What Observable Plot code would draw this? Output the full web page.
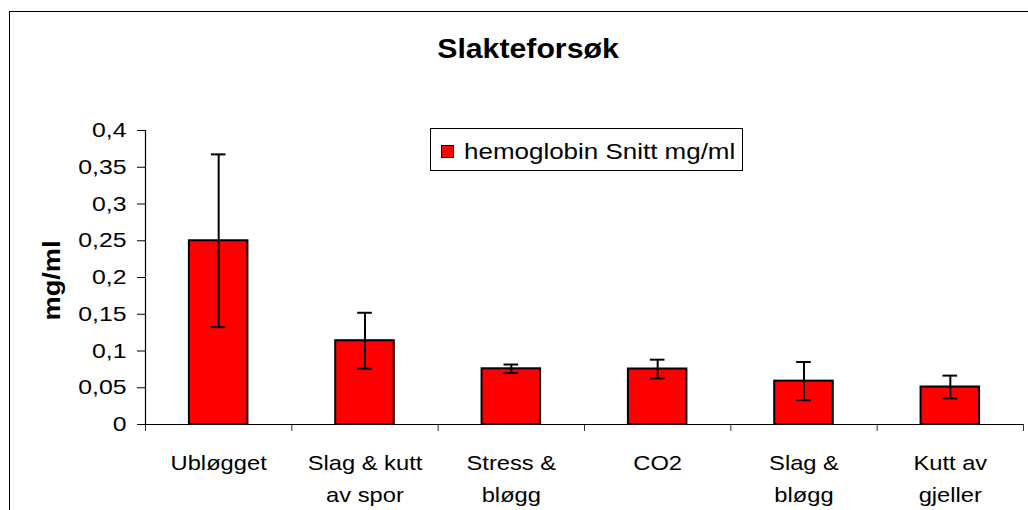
<!DOCTYPE html>
<html><head><meta charset="utf-8">
<script src="https://cdn.jsdelivr.net/npm/d3@7"></script>
<script src="https://cdn.jsdelivr.net/npm/@observablehq/plot@0.6"></script>
<style>
body{margin:0;background:#fff;}
#wrap{position:relative;width:1028px;height:510px;overflow:hidden;font-family:"Liberation Sans",Arial,sans-serif;color:#000;}
#chart{position:absolute;left:0;top:0;}
#frame{position:absolute;left:9px;top:11px;right:-5px;bottom:-5px;border-left:1.5px solid #000;border-top:1.5px solid #000;pointer-events:none;}
#title{position:absolute;left:327.5px;width:400px;top:34.6px;text-align:center;font-weight:bold;font-size:28px;line-height:28px;transform:scaleX(1.08);white-space:nowrap;}
#legend{position:absolute;left:430px;top:128px;width:311px;height:41px;border:1px solid #000;background:#fff;}
#legend .sw{position:absolute;left:10px;top:16px;width:11px;height:11px;background:#ff0000;border:1px solid #000;}
#legend .lt{position:absolute;left:33px;top:11.7px;font-size:22px;line-height:22px;white-space:nowrap;transform:scaleX(1.18);transform-origin:0 0;}
</style>
</head><body>
<div id="wrap">
  <div id="chart"></div>
  <div id="frame"></div>
  <div id="title"></div>
  <div id="legend"><div class="sw"></div><div class="lt"></div></div>
</div>
<script>
const titleText = "Slakteforsøk";
const seriesName = "hemoglobin Snitt mg/ml";
const yLabel = "mg/ml";
const categories = ["Ubløgget", "Slag & kutt\nav spor", "Stress &\nbløgg", "CO2", "Slag &\nbløgg", "Kutt av\ngjeller"];
const means = [0.25, 0.114, 0.0758, 0.0755, 0.059, 0.051];
const errors = [0.1175, 0.038, 0.0058, 0.0127, 0.026, 0.0155];
const yTicks = [0, 0.05, 0.1, 0.15, 0.2, 0.25, 0.3, 0.35, 0.4];
const yTickLabels = ["0", "0,05", "0,1", "0,15", "0,2", "0,25", "0,3", "0,35", "0,4"];

document.getElementById("title").textContent = titleText;
document.querySelector("#legend .lt").textContent = seriesName;

const data = categories.map((c, i) => ({i, c, v: means[i], e: errors[i]}));
const boundaries = d3.range(categories.length + 1);

const plot = Plot.plot({
  width: 1028,
  height: 510,
  marginLeft: 145,
  marginRight: 5,
  marginTop: 130,
  marginBottom: 86,
  style: {fontFamily: "'Liberation Sans', Arial, sans-serif", color: "#000", background: "transparent", overflow: "visible"},
  x: {domain: [0, categories.length], axis: null},
  y: {domain: [0, 0.4], axis: null},
  marks: [
    Plot.rect(data, {x1: d => d.i + 0.3, x2: d => d.i + 0.7, y1: 0, y2: "v", fill: "#ff0000", stroke: "#000", strokeWidth: 2}),
    Plot.ruleX(data, {x: d => d.i + 0.5, y1: d => d.v - d.e, y2: d => d.v + d.e, stroke: "#000", strokeWidth: 2}),
    Plot.ruleY(data, {y: d => d.v + d.e, x1: d => d.i + 0.45, x2: d => d.i + 0.55, stroke: "#000", strokeWidth: 2}),
    Plot.ruleY(data, {y: d => d.v - d.e, x1: d => d.i + 0.45, x2: d => d.i + 0.55, stroke: "#000", strokeWidth: 2}),
    Plot.axisY({ticks: yTicks, tickFormat: d => yTickLabels[yTicks.indexOf(d)], tickSize: 8, tickPadding: 11, fontSize: 21, label: null, stroke: "#000"}),
    Plot.axisX({ticks: boundaries, tickFormat: () => "", tickSize: 7, label: null, stroke: "#333"}),
    Plot.ruleX([0], {stroke: "#000", strokeWidth: 1.2}),
    Plot.ruleY([0], {stroke: "#000", strokeWidth: 1.2}),
    Plot.text(data, {x: d => d.i + 0.5, y: 0, text: "c", lineAnchor: "top", dy: 23, fontSize: 21, lineHeight: 32 / 21, fill: "#000"}),
    Plot.text([yLabel], {frameAnchor: "left", textAnchor: "middle", lineAnchor: "middle", dx: -93, dy: 3, rotate: -90, fontSize: 23, fontWeight: "bold", fill: "#000"})
  ]
});
document.getElementById("chart").appendChild(plot);

// widen glyphs horizontally around each text's own anchor (the reference font renders wider)
function stretch(group, sx) {
  if (!group) return;
  group.querySelectorAll("text").forEach(t => {
    const b = t.getBBox();
    const anchor = t.getAttribute("text-anchor") || getComputedStyle(t).textAnchor || "middle";
    const ax = anchor === "end" ? b.x + b.width : anchor === "start" ? b.x : b.x + b.width / 2;
    const tr = t.getAttribute("transform") || "";
    t.setAttribute("transform", `${tr} translate(${ax},0) scale(${sx},1) translate(${-ax},0)`);
  });
}
stretch(plot.querySelector('g[aria-label="y-axis tick label"]'), 1.18);
const textGs = plot.querySelectorAll('g[aria-label="text"]');
stretch(textGs[0], 1.13);
stretch(textGs[1], 1.18);
</script>
</body></html>
